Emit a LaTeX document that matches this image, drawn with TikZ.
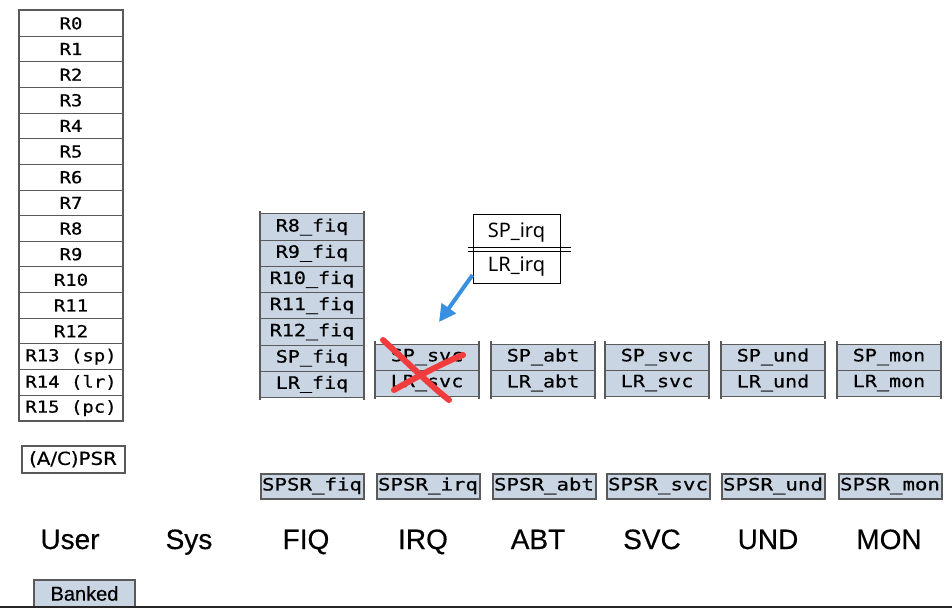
\documentclass[tikz,border=0pt]{standalone}
\usepackage{fontspec}
\setmainfont{Liberation Sans}
\newfontfamily\regfont{DejaVu Sans Mono}[FakeStretch=1.15,FakeBold=0.6]
\newfontfamily\bankfont{DejaVu Sans Mono}[FakeStretch=1.18,FakeBold=0.6]
\newfontfamily\spsrfont{DejaVu Sans Mono}[FakeStretch=1.22,FakeBold=0.6]
\newfontfamily\psrfont{DejaVu Sans}[FakeStretch=1.1,FakeBold=0.6]
\newfontfamily\modefont{Liberation Sans}[FakeBold=0.4]
\newfontfamily\uifont{Noto Sans}
\usetikzlibrary{arrows.meta}
\definecolor{bank}{HTML}{C9D5E2}
\definecolor{edge}{HTML}{5A5A5A}
\definecolor{xred}{HTML}{F03C3C}
\definecolor{arrowblue}{HTML}{3A90E0}
\tikzset{
  cell/.style={draw=edge, line width=1pt, minimum width=103pt, minimum height=25.65pt,
    inner sep=0pt, anchor=north west},
  whitecell/.style={cell, fill=white, font=\regfont\fontsize{16.5}{16.5}\selectfont},
  bankcell/.style={cell, fill=bank, minimum height=26pt, font=\bankfont\fontsize{17}{17}\selectfont},
  sidebar/.style={draw=edge, line width=2.2pt},
  spsr/.style={draw=edge, line width=2pt, fill=bank, minimum width=103pt, minimum height=25pt,
    inner sep=0pt, anchor=north west, font=\spsrfont\fontsize{17}{17}\selectfont},
  mode/.style={font=\modefont\fontsize{28}{28}\selectfont, inner sep=0pt, anchor=base},
  callout/.style={font=\uifont\fontsize{20}{20}\selectfont, inner sep=0pt},
}
\begin{document}
\begin{tikzpicture}[x=1pt,y=-1pt]
\useasboundingbox (0,0) rectangle (952,609);
\fill[white] (0,0) rectangle (952,609);

% main register column
\foreach \lab [count=\i from 0] in {R0,R1,R2,R3,R4,R5,R6,R7,R8,R9,R10,R11,R12,R13 (sp),R14 (lr),R15 (pc)}
  \node[whitecell] (r\i) at (19,{10+25.65*\i}) {\lab};
\draw[edge, line width=2pt] (r0.north west) rectangle (r15.south east);

% (A/C)PSR
\node[draw=edge, line width=2pt, fill=white, minimum width=103pt, minimum height=26.5pt,
  inner sep=0pt, anchor=north west, font=\psrfont\fontsize{18}{18}\selectfont] (cpsr) at (20.5,445) {(A/C)PSR};

% FIQ column
\foreach \lab [count=\i] in {R8\_fiq,R9\_fiq,R10\_fiq,R11\_fiq,R12\_fiq,SP\_fiq,LR\_fiq}
  \node[bankcell, minimum height=26.2pt] (fiq\i) at (260,{213.5+26.2*(\i-1)}) {\lab};
\draw[sidebar] ([yshift=2.5pt]fiq1.north west) -- ([yshift=-2.5pt]fiq7.south west);
\draw[sidebar] ([yshift=2.5pt]fiq1.north east) -- ([yshift=-2.5pt]fiq7.south east);

% SP/LR columns
\foreach \nm/\x/\suf in {irq/375/svc, abt/491/abt, svc/605/svc, und/721/und, mon/837/mon}{
  \node[bankcell] (\nm sp) at (\x,343.5) {SP\_\suf};
  \node[bankcell] (\nm lr) at (\x,369.5) {LR\_\suf};
  \draw[sidebar] ([yshift=2.5pt]\nm sp.north west) -- ([yshift=-2.5pt]\nm lr.south west);
  \draw[sidebar] ([yshift=2.5pt]\nm sp.north east) -- ([yshift=-2.5pt]\nm lr.south east);
}

% SPSR row
\foreach \nm/\x in {fiq/259.5, irq/375.5, abt/491.5, svc/605.5, und/720.5, mon/837.5}
  \node[spsr] (spsr\nm) at (\x,472.5) {SPSR\_\nm};

% mode labels
\foreach \nm/\x in {User/70, Sys/189, FIQ/306, IRQ/423, ABT/538, SVC/652, UND/768, MON/889}
  \node[mode] (m\nm) at (\x,549) {\nm};

% Banked legend
\node[draw=edge, line width=2pt, fill=bank, minimum width=101pt, minimum height=27pt, inner sep=0pt,
  anchor=north west, font=\modefont\fontsize{20}{20}\selectfont] (banked) at (33,579) {Banked};

% bottom rule
\draw[black!85, line width=2pt] (0,606.5) -- (952,606.5);

% callout box
\node[draw=black, line width=1pt, fill=white, minimum width=87.5pt, minimum height=69pt,
  inner sep=0pt, anchor=north west] (cb) at (472.7,214.3) {};
\node[callout] (spirq) at (516.5,233) {SP\_irq};
\node[callout] (lrirq) at (516.5,267) {LR\_irq};
\draw[black, line width=1pt] ([xshift=-5pt]cb.west |- 0,248) -- ([xshift=10pt]cb.east |- 0,248);
\draw[black, line width=1pt] ([xshift=-5pt]cb.west |- 0,251.5) -- ([xshift=10pt]cb.east |- 0,251.5);

% blue arrow
\coordinate (astart) at (472.5,275);
\coordinate (atip) at (439,322);
\draw[arrowblue, line width=4pt, -{Triangle[length=17pt,width=17pt]}] (astart) -- (atip);

% red cross
\draw[xred, line width=6pt, line cap=round] (383,340) .. controls (410,365) and (430,385) .. (449,400);
\draw[xred, line width=6pt, line cap=round] (394,390) .. controls (420,375) and (445,362) .. (463,355);
\end{tikzpicture}
\end{document}
